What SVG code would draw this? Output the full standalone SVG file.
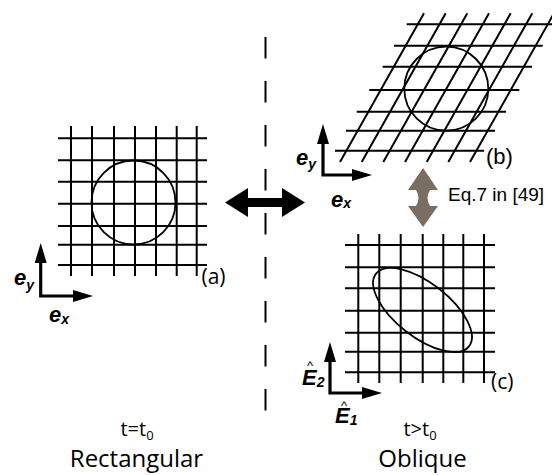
<svg xmlns="http://www.w3.org/2000/svg" width="552" height="475" viewBox="0 0 552 475">
<style>
.g{stroke:#000;stroke-width:2;fill:none}
.c{stroke:#000;stroke-width:1.8;fill:none}
.ax{stroke:#000;stroke-width:3.2;fill:none;stroke-linejoin:miter;marker-start:url(#ah);marker-end:url(#ah)}
.lab{font-family:"Open Sans","Noto Sans",sans-serif;fill:#000}
.arl{font-family:"Liberation Sans",Arial,sans-serif;fill:#000}
.bv{font-family:"Liberation Sans",Arial,sans-serif;font-weight:bold;font-style:italic;fill:#000}
.hat{font-weight:normal;font-style:normal;font-size:13px}
</style>
<defs>
<marker id="ah" markerUnits="userSpaceOnUse" markerWidth="20" markerHeight="12" refX="10" refY="6" orient="auto-start-reverse" viewBox="0 0 20 12">
<path d="M0,0 L20,6 L0,12 z" fill="#000"/>
</marker>
</defs>

<g id="divider">
<line x1="265.5" y1="37" x2="265.5" y2="412" stroke="#000" stroke-width="2" stroke-dasharray="21.5 22.5"/>
</g>

<g id="panel-a">
<g class="g">
<path d="M71,126V276M92,126V276M114,126V276M135,126V276M156,126V276M176.7,126V276M196.7,126V276"/>
<path d="M58,138.3H207M58,160.3H207M58,181.7H207M58,203.7H207M58,226H207M58,244.7H207M58,265H207"/>
</g>
<circle class="c" cx="133.5" cy="202.5" r="42"/>
<text class="lab" x="201.5" y="284" font-size="21">(a)</text>
<path class="ax" d="M40.7,253V296H83"/>
<text class="bv" x="14" y="285" font-size="22">e<tspan font-size="14" dy="5">y</tspan></text>
<text class="bv" x="49" y="322" font-size="22">e<tspan font-size="14" dy="2">x</tspan></text>
</g>

<g id="panel-b">
<g class="g">
<path d="M340,162L424,13.3M361.7,162L445.7,13.3M383.3,162L467.3,13.3M405,162L489,13.3M426.7,162L510.7,13.3M448.3,162L532.3,13.3M470,162L554,13.3"/>
<path d="M406.7,24.3H555.7M394,45.7H542.7M382.7,66.7H532M369.3,90H519.3M356.7,111.7H506M346,130.7H495M335,150.7H484"/>
</g>
<circle class="c" cx="446.3" cy="88.7" r="42"/>
<text class="arl" x="486" y="164" font-size="22">(b)</text>
<path class="ax" d="M323,134V175H362"/>
<text class="bv" x="296" y="165" font-size="22">e<tspan font-size="14" dy="4">y</tspan></text>
<text class="bv" x="331" y="207" font-size="22">e<tspan font-size="14" dy="1">x</tspan></text>
</g>

<g id="panel-c">
<g class="g">
<path d="M358.3,234V383M379.3,234V383M400.7,234V383M422.7,234V383M443.3,234V383M463.3,234V383M484,234V383"/>
<path d="M345,245H495M345,267.3H495M345,288.3H495M345,310.7H495M345,332.7H495M345,351.7H495M345,372.3H495"/>
</g>
<ellipse class="c" cx="422.5" cy="310" rx="59" ry="27" transform="rotate(38 422.5 310)"/>
<text class="lab" x="491" y="389" font-size="21">(c)</text>
<path class="ax" d="M330,352V393H372"/>
<text class="bv" x="302" y="385" font-size="22">E<tspan font-size="14" dy="2">2</tspan><tspan class="hat" x="307" y="370">^</tspan></text>
<text class="bv" x="335" y="423" font-size="22">E<tspan font-size="14" dy="2">1</tspan><tspan class="hat" x="341" y="410">^</tspan></text>
</g>

<g id="connectors">
<path id="swap-arrow" d="M225,202.5L248,188V198H282V188L305,202.5L282,217V207H248V217Z" fill="#000"/>
<path id="eq-arrow" d="M423,168L438,190H430Q425,198 430,206H438L423,227L408,206H416Q421,198 416,190H408Z" fill="#7a6e62"/>
</g>

<g id="eq-label">
<text class="arl" x="448" y="200.5" font-size="19">Eq.7 in [49]</text>
</g>

<g id="captions">
<text class="lab" x="137" y="436" font-size="20" text-anchor="middle">t=t<tspan font-size="13" dy="4">0</tspan></text>
<text class="lab" x="136.5" y="467" font-size="24" text-anchor="middle">Rectangular</text>
<text class="lab" x="420" y="436" font-size="20" text-anchor="middle">t&gt;t<tspan font-size="13" dy="4">0</tspan></text>
<text class="lab" x="422.5" y="467" font-size="24" text-anchor="middle">Oblique</text>
</g>
</svg>
